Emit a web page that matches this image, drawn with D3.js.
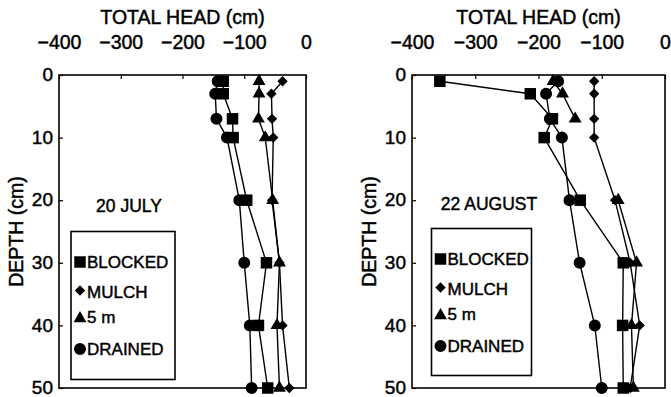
<!DOCTYPE html>
<html>
<head>
<meta charset="utf-8">
<script src="https://cdn.jsdelivr.net/npm/d3@7"></script>
<style>
  html, body { margin: 0; padding: 0; background: #fff; }
  svg { display: block; }
  text { font-family: "Liberation Sans", Arial, sans-serif; fill: #000; stroke: #000; stroke-width: 0.45px; }
</style>
</head>
<body>
<svg id="chart" width="671" height="397"></svg>
<script>
// ---- data ----
const depths = [1, 3, 7, 10, 20, 30, 40, 50];
const xTicks = [-400, -300, -200, -100, 0];
const yTicks = [0, 10, 20, 30, 40, 50];
const seriesNames = ["BLOCKED", "MULCH", "5 m", "DRAINED"];
const seriesSymbols = ["square", "diamond", "triangle", "circle"];

const julyBlocked = [-134, -134, -119, -118, -96, -64, -77, -62];
const julyMulch   = [-38, -56, -55, -53, -55, -43, -38, -27];
const july5m      = [-76, -76, -77, -66, -54, -43, -47, -43];
const julyDrained = [-143, -147, -145, -128, -108, -100, -91, -88];

const augBlocked = [-356, -213, -178, -191, -134, -66, -67, -66];
const augMulch   = [-112, -112, -112, -112, -79, -55, -40, -55];
const aug5m      = [-177, -162, -142, null, -74, -45, -53, -50];
const augDrained = [-169, -188, -182, -163, -151, -135, -111, -100];

const panelLabels = ["20 JULY", "22 AUGUST"];
const xTitle = "TOTAL HEAD (cm)";
const yTitle = "DEPTH (cm)";

// ---- layout ----
const panels = [
  { x0: 59, x1: 306, label: panelLabels[0], labelX: 129, labelY: 211.5,
    legend: { x: 71, y: 231.5, w: 104, h: 148 },
    series: [julyBlocked, julyMulch, july5m, julyDrained] },
  { x0: 412, x1: 665, label: panelLabels[1], labelX: 489, labelY: 210,
    legend: { x: 431.5, y: 228.5, w: 100, h: 147 },
    series: [augBlocked, augMulch, aug5m, augDrained] }
];
const yTop = 75, yBot = 388;
const legendBaselines = [36.5, 66, 91.5, 123.5];
const markerOffsets = [-6, -7, -4.5, -6];
const drawOrder = [3, 1, 2, 0]; // drained, mulch, 5m, blocked

const svg = d3.select("#chart");

function symbolPath(kind) {
  const map = {
    square: d3.symbolSquare, diamond: d3.symbolDiamond2,
    triangle: d3.symbolTriangle, circle: d3.symbolCircle
  };
  const sizes = { square: 132, diamond: 68, triangle: 72, circle: 113 };
  return d3.symbol().type(map[kind]).size(sizes[kind])();
}

panels.forEach(p => {
  const x = d3.scaleLinear().domain([-400, 0]).range([p.x0, p.x1]);
  const y = d3.scaleLinear().domain([0, 50]).range([yTop, yBot]);
  const g = svg.append("g");

  // top axis
  const xa = g.append("g").attr("transform", `translate(0,${yTop})`)
    .call(d3.axisTop(x).tickValues(xTicks).tickSizeInner(-4).tickSizeOuter(0).tickPadding(26.5));
  xa.select(".domain").remove();
  xa.selectAll(".tick line").attr("stroke", "#000").attr("stroke-width", 1.2);
  xa.selectAll(".tick text").attr("font-size", 19.5).attr("fill", "#000")
    .style("font-family", '"Liberation Sans", Arial, sans-serif');

  // left axis
  const ya = g.append("g").attr("transform", `translate(${p.x0},0)`)
    .call(d3.axisLeft(y).tickValues(yTicks).tickSizeInner(-4).tickSizeOuter(0).tickPadding(6));
  ya.select(".domain").remove();
  ya.selectAll(".tick line").attr("stroke", "#000").attr("stroke-width", 1.2);
  ya.selectAll(".tick text").attr("font-size", 19).attr("fill", "#000").attr("dy", "0.3em")
    .style("font-family", '"Liberation Sans", Arial, sans-serif');

  // frame
  g.append("rect").attr("x", p.x0).attr("y", yTop)
    .attr("width", p.x1 - p.x0).attr("height", yBot - yTop)
    .attr("fill", "none").attr("stroke", "#000").attr("stroke-width", 1.6);

  // titles
  g.append("text").attr("x", (p.x0 + p.x1) / 2).attr("y", 24)
    .attr("text-anchor", "middle").attr("font-size", 19.5).text(xTitle);
  g.append("text")
    .attr("transform", `translate(${p.x0 - 36},${(yTop + yBot) / 2}) rotate(-90)`)
    .attr("text-anchor", "middle").attr("font-size", 19.5).text(yTitle);

  // lines
  const line = d3.line()
    .defined(d => d.v !== null)
    .x(d => x(d.v)).y(d => y(d.d));
  drawOrder.forEach(si => {
    const pts = depths.map((d, i) => ({ d, v: p.series[si][i] }));
    g.append("path").datum(pts).attr("d", line)
      .attr("fill", "none").attr("stroke", "#000").attr("stroke-width", 1.4);
  });
  // markers
  drawOrder.forEach(si => {
    const pts = depths.map((d, i) => ({ d, v: p.series[si][i] })).filter(o => o.v !== null);
    g.selectAll(null).data(pts).enter().append("path")
      .attr("d", symbolPath(seriesSymbols[si]))
      .attr("transform", o => `translate(${x(o.v)},${y(o.d)})`)
      .attr("fill", "#000");
  });

  // panel label
  g.append("text").attr("x", p.labelX).attr("y", p.labelY)
    .attr("text-anchor", "middle").attr("font-size", 17.5).text(p.label);

  // legend
  const L = p.legend;
  g.append("rect").attr("x", L.x).attr("y", L.y).attr("width", L.w).attr("height", L.h)
    .attr("fill", "#fff").attr("stroke", "#000").attr("stroke-width", 1.6);
  seriesNames.forEach((name, i) => {
    const by = L.y + legendBaselines[i];
    g.append("path").attr("d", symbolPath(seriesSymbols[i]))
      .attr("transform", `translate(${L.x + 9},${by + markerOffsets[i]})`)
      .attr("fill", "#000");
    g.append("text").attr("x", L.x + 16).attr("y", by)
      .attr("font-size", 17).text(name);
  });
});
</script>
</body>
</html>
